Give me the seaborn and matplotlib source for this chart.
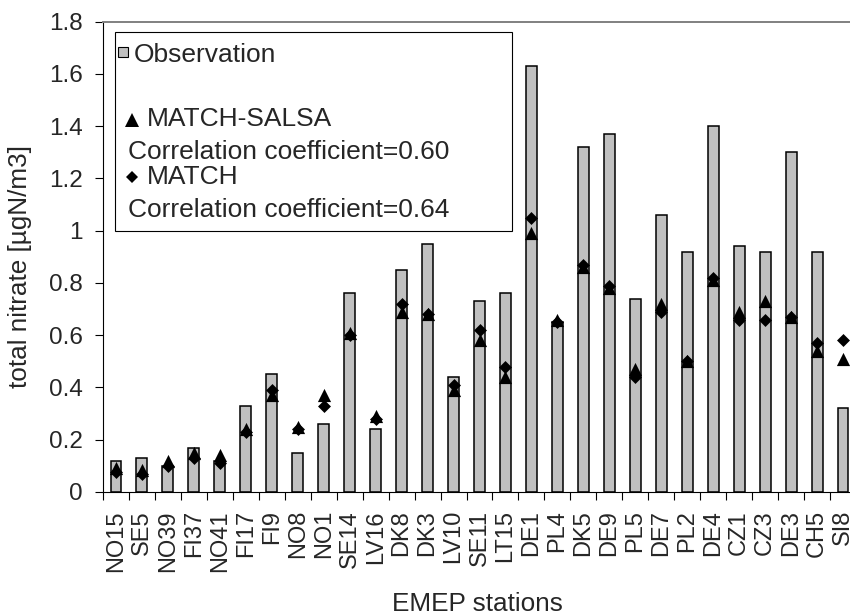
import numpy as np
import pandas as pd
import matplotlib
matplotlib.use("Agg")
import matplotlib.pyplot as plt
from matplotlib.patches import Rectangle
from matplotlib.lines import Line2D
from matplotlib.ticker import FixedLocator, FuncFormatter
import seaborn as sns

# EMEP stations and total nitrate concentrations [µgN/m3]
stations = ["NO15", "SE5", "NO39", "FI37", "NO41", "FI17", "FI9", "NO8", "NO1",
            "SE14", "LV16", "DK8", "DK3", "LV10", "SE11", "LT15", "DE1", "PL4",
            "DK5", "DE9", "PL5", "DE7", "PL2", "DE4", "CZ1", "CZ3", "DE3", "CH5", "SI8"]
observation = [0.12, 0.13, 0.10, 0.17, 0.12, 0.33, 0.45, 0.15, 0.26,
               0.76, 0.24, 0.85, 0.95, 0.44, 0.73, 0.76, 1.63, 0.65,
               1.32, 1.37, 0.74, 1.06, 0.92, 1.40, 0.94, 0.92, 1.30, 0.92, 0.32]
match_salsa = [0.09, 0.085, 0.12, 0.15, 0.14, 0.24, 0.37, 0.25, 0.37,
               0.61, 0.29, 0.69, 0.68, 0.39, 0.58, 0.44, 0.99, 0.66,
               0.86, 0.78, 0.47, 0.72, 0.50, 0.81, 0.69, 0.73, 0.67, 0.54, 0.51]
match = [0.075, 0.07, 0.10, 0.13, 0.11, 0.23, 0.39, 0.24, 0.33,
         0.60, 0.28, 0.72, 0.68, 0.41, 0.62, 0.48, 1.05, 0.65,
         0.87, 0.79, 0.44, 0.69, 0.50, 0.82, 0.66, 0.66, 0.67, 0.57, 0.58]
y_ticks = [0, 0.2, 0.4, 0.6, 0.8, 1.0, 1.2, 1.4, 1.6, 1.8]

legend_labels = ["Observation", "MATCH-SALSA", "Correlation coefficient=0.60",
                 "MATCH", "Correlation coefficient=0.64"]

sns.set_style("white")
plt.rcParams["font.family"] = ["Liberation Sans", "DejaVu Sans"]

W, H = 850, 616
fig = plt.figure(figsize=(W / 100, H / 100), dpi=100)
ax = fig.add_axes([103 / W, 1 - 492 / H, 753 / W, 470.3 / H])

df = pd.DataFrame({"station": stations, "obs": observation,
                   "salsa": match_salsa, "match": match})

sns.barplot(data=df, x="station", y="obs", color="#C0C0C0", saturation=1,
            edgecolor="black", linewidth=1.1, width=0.42, errorbar=None,
            ax=ax, zorder=2)
sns.stripplot(data=df, x="station", y="salsa", marker="^", size=9.5,
              color="black", jitter=False, linewidth=0, ax=ax, zorder=3)
sns.stripplot(data=df, x="station", y="match", marker="D", size=6.6,
              color="black", jitter=False, linewidth=0, ax=ax, zorder=4)

n = len(stations)
ax.set_xlim(-0.5, n - 0.5)
ax.set_ylim(0, 1.8)
ax.set_yticks(y_ticks)
ax.yaxis.set_major_formatter(FuncFormatter(lambda v, p: f"{v:g}"))
ax.tick_params(axis="y", which="major", left=True, direction="out", length=5.8,
               width=0.8, color="black", pad=9, labelsize=17.5)

ax.set_xticks(range(n))
ax.set_xticklabels(stations, rotation=90)
ax.xaxis.set_minor_locator(FixedLocator(np.arange(-0.5, n, 1.0)))
ax.tick_params(axis="x", which="major", bottom=True, length=0, pad=13,
               labelsize=17)
ax.tick_params(axis="x", which="minor", bottom=True, direction="out",
               length=5.8, width=0.8, color="black")

for side in ("left", "bottom"):
    ax.spines[side].set_color("black")
    ax.spines[side].set_linewidth(0.8)
ax.spines["top"].set_color("#808080")
ax.spines["top"].set_linewidth(1.4)
ax.spines["right"].set_visible(False)

ax.set_ylabel("total nitrate [µgN/m3]", fontsize=18.8)
ax.yaxis.set_label_coords(-0.094, 0.4805)
ax.set_xlabel("EMEP stations", fontsize=18.8)
ax.xaxis.set_label_coords(0.497, -0.2126)


# Legend box drawn in figure pixel space
def fx(x):
    return x / W


def fy(y):
    return 1 - y / H


fig.add_artist(Rectangle((fx(115), fy(231)), (511.7 - 115) / W, (231 - 32.3) / H,
                         transform=fig.transFigure, facecolor="white",
                         edgecolor="black", linewidth=0.8, zorder=5))
fig.add_artist(Rectangle((fx(118.3), fy(56.7)), 10 / W, 10 / H,
                         transform=fig.transFigure, facecolor="#C0C0C0",
                         edgecolor="black", linewidth=0.8, zorder=6))
fig.add_artist(Line2D([fx(131.7)], [fy(119.6)], marker="^", markersize=9.5,
                      color="black", linestyle="none", markeredgewidth=0,
                      transform=fig.transFigure, zorder=6))
fig.add_artist(Line2D([fx(131.7)], [fy(177)], marker="D", markersize=6.6,
                      color="black", linestyle="none", markeredgewidth=0,
                      transform=fig.transFigure, zorder=6))

legend_pos = [(133.3, 61.7), (146.7, 126), (128.3, 159.3), (146.7, 183.5), (128.3, 216.7)]
for label, (lx, ly) in zip(legend_labels, legend_pos):
    fig.text(fx(lx), fy(ly), label, fontsize=19, va="baseline", ha="left", zorder=7)

fig.savefig("out.png", dpi=100)
